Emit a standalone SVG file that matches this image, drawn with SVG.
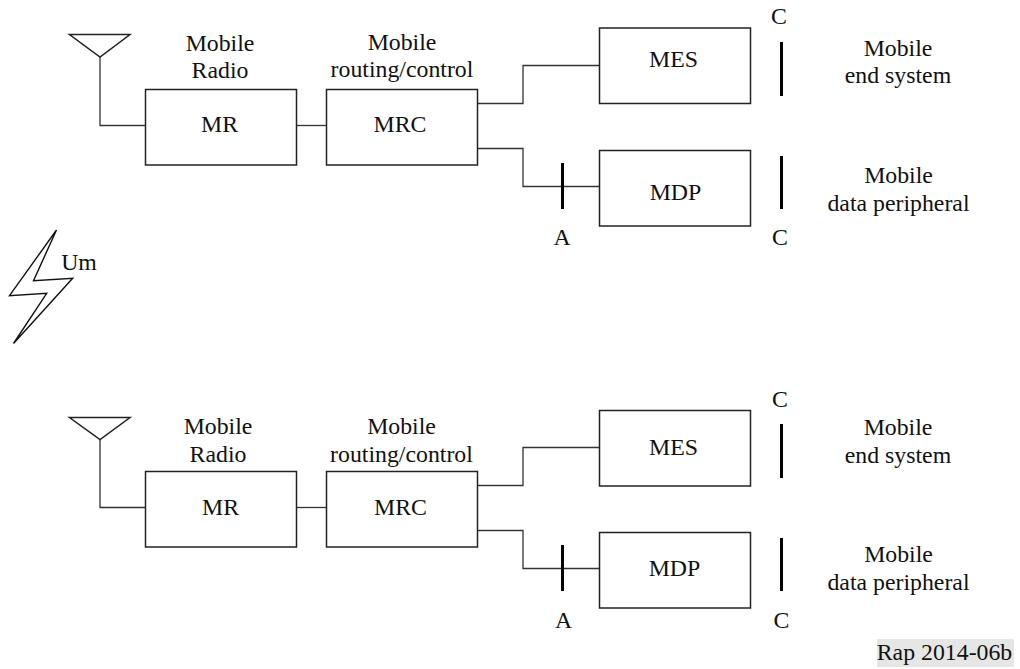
<svg xmlns="http://www.w3.org/2000/svg" width="1020" height="669" viewBox="0 0 1020 669">
<style>
text{font-family:"Liberation Serif","Times New Roman",serif;font-size:23.800px;fill:#111;text-anchor:middle}
.b{fill:#fff;stroke:#222;stroke-width:1.5}
.w{fill:none;stroke:#333;stroke-width:1.3}
.bar{stroke:#000;stroke-width:3;fill:none}
.ant{fill:#fff;stroke:#222;stroke-width:1.5}
</style>
<rect width="1020" height="669" fill="#fff"/>
<g id="connectors">
<path class="w" d="M100 57V125.500H145"/>
<path class="w" d="M296 125.500H326"/>
<path class="w" d="M478 103.500H523V65.500H599"/>
<path class="w" d="M478 148.500H523V186.500H599"/>
<path class="w" d="M100 439V507.500H145"/>
<path class="w" d="M296 507.500H326"/>
<path class="w" d="M478 485.500H523V447.500H599"/>
<path class="w" d="M478 530.500H523V568.500H599"/>
</g>
<g id="antenna-top"><path class="ant" d="M69.500 34.500H130L100 57Z"/></g>
<g id="mr-top"><rect class="b" x="145.500" y="89.500" width="151" height="75.500"/><text x="219.500" y="132">MR</text></g>
<g id="mr-top-label"><text x="220" y="50.500">Mobile</text><text x="220" y="78">Radio</text></g>
<g id="mrc-top"><rect class="b" x="326.500" y="89.500" width="151" height="75.500"/><text x="400" y="132">MRC</text></g>
<g id="mrc-top-label"><text x="402" y="49.500">Mobile</text><text x="402" y="77">routing/control</text></g>
<g id="mes-top"><rect class="b" x="599.500" y="28" width="151" height="75.500"/><text x="673.500" y="67">MES</text></g>
<g id="mdp-top"><rect class="b" x="599.500" y="150.500" width="151" height="75.500"/><text x="675.500" y="199.500">MDP</text></g>
<g id="ref-top">
<path class="bar" d="M781.500 42V96M781.500 156V209M562.500 163V209"/>
<text x="779" y="24">C</text><text x="780" y="245">C</text><text x="562" y="245">A</text>
<text x="898" y="55.500">Mobile</text><text x="898" y="83">end system</text>
<text x="898.500" y="182.500">Mobile</text><text x="898.500" y="210.500">data peripheral</text>
</g>
<g id="um"><path fill="#fff" stroke="#111" stroke-width="1.4" stroke-linejoin="miter" d="M56.500 230L33.500 280.700L72.700 278.300L13.500 343.500L46.700 293.300L9.500 295.700Z"/><text x="79" y="270">Um</text></g>
<g id="antenna-bottom"><path class="ant" d="M69.500 417.500H130L100 439.500Z"/></g>
<g id="mr-bottom"><rect class="b" x="145.500" y="471.500" width="151" height="75.500"/><text x="220.500" y="515">MR</text></g>
<g id="mr-bottom-label"><text x="218" y="433.500">Mobile</text><text x="218" y="462">Radio</text></g>
<g id="mrc-bottom"><rect class="b" x="326.500" y="471.500" width="151" height="75.500"/><text x="400.500" y="515">MRC</text></g>
<g id="mrc-bottom-label"><text x="401.500" y="433.500">Mobile</text><text x="401.500" y="462">routing/control</text></g>
<g id="mes-bottom"><rect class="b" x="599.500" y="410.500" width="151" height="75.500"/><text x="673.500" y="455">MES</text></g>
<g id="mdp-bottom"><rect class="b" x="599.500" y="532.500" width="151" height="75.500"/><text x="674.500" y="576">MDP</text></g>
<g id="ref-bottom">
<path class="bar" d="M781.500 424V478M781.500 538V591M562.500 545V591"/>
<text x="780" y="407">C</text><text x="781.500" y="628">C</text><text x="563.500" y="628">A</text>
<text x="898" y="435">Mobile</text><text x="898" y="462.500">end system</text>
<text x="898.500" y="561.500">Mobile</text><text x="898.500" y="589.500">data peripheral</text>
</g>
<g id="ref-label"><rect x="877" y="639" width="137" height="28" fill="#e6e6e6"/><text x="944.500" y="660">Rap 2014-06b</text></g>
</svg>
